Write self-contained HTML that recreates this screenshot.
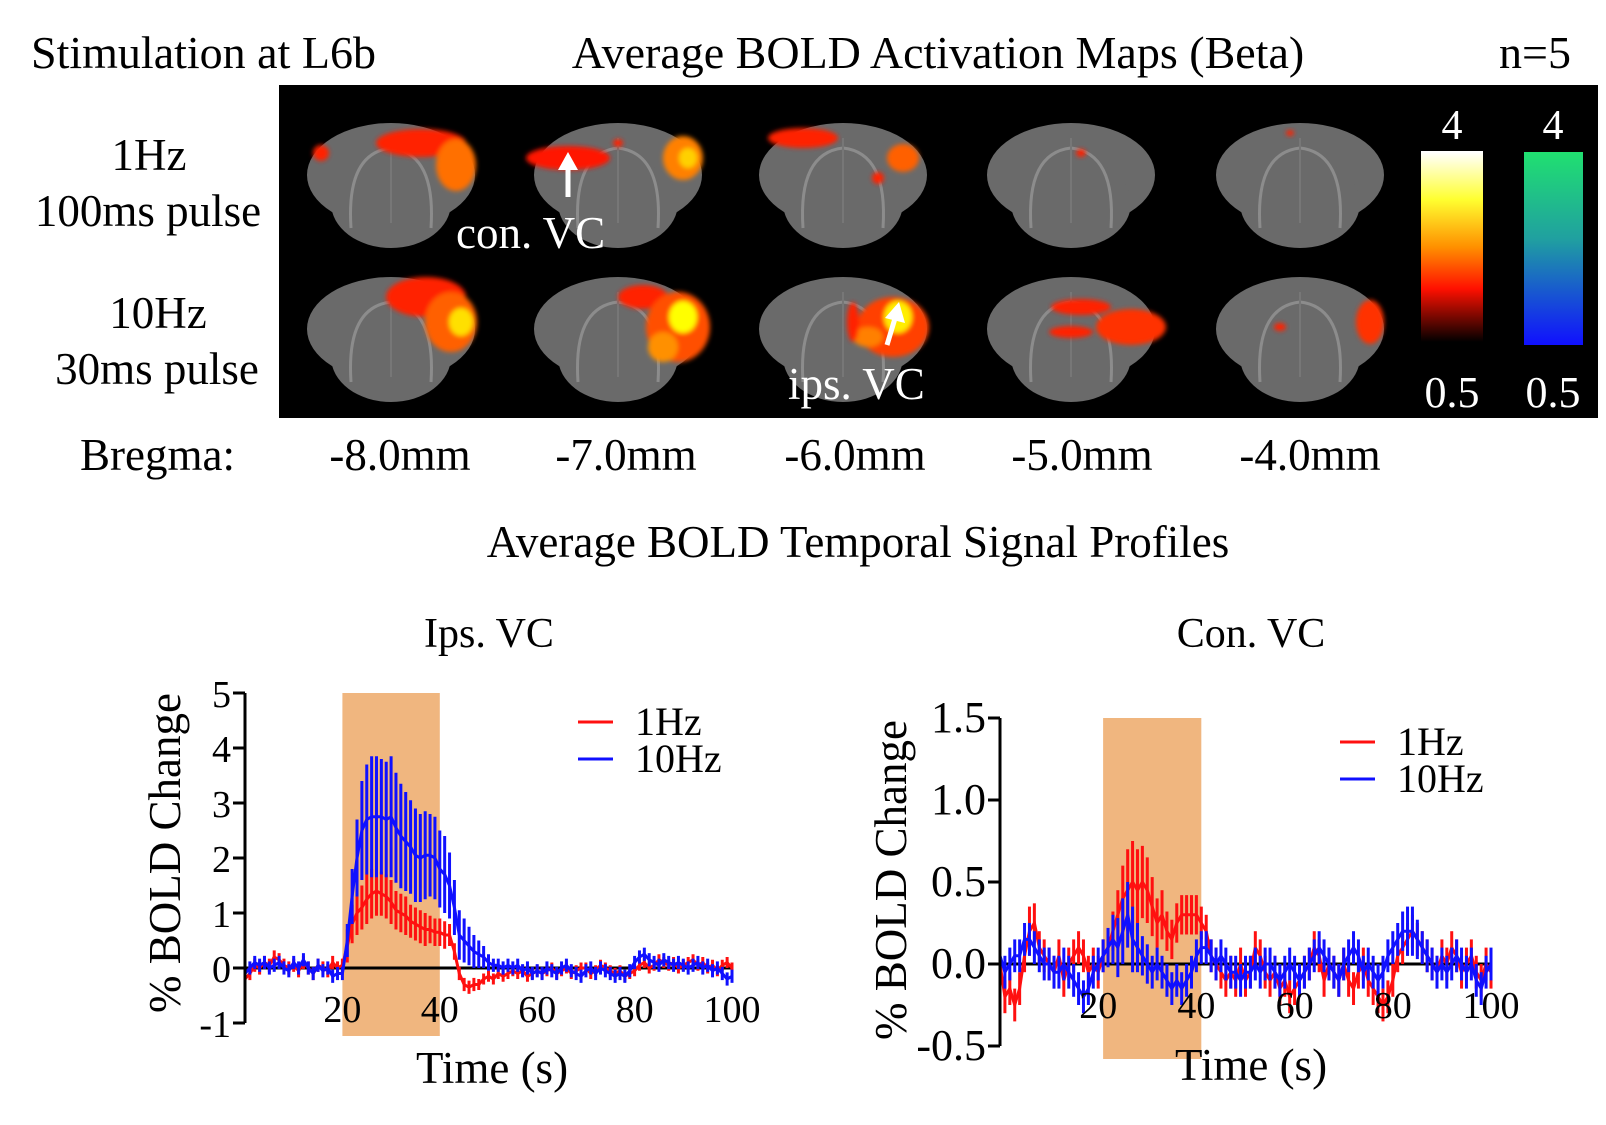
<!DOCTYPE html>
<html><head><meta charset="utf-8"><style>
html,body{margin:0;padding:0;background:#fff}
svg{display:block}
text{font-family:"Liberation Serif",serif;fill:#000}
</style></head><body>
<svg id="fig" width="1606" height="1125" viewBox="0 0 1606 1125">
<defs>
<filter id="blur2" x="-50%" y="-50%" width="200%" height="200%"><feGaussianBlur stdDeviation="2.5"/></filter>
<linearGradient id="cbHot" x1="0" y1="0" x2="0" y2="1">
<stop offset="0" stop-color="#ffffff"/><stop offset="0.25" stop-color="#ffff30"/><stop offset="0.5" stop-color="#ff9000"/><stop offset="0.72" stop-color="#ff1000"/><stop offset="1" stop-color="#000000"/></linearGradient>
<linearGradient id="cbCool" x1="0" y1="0" x2="0" y2="1">
<stop offset="0" stop-color="#20e070"/><stop offset="0.45" stop-color="#20a0a0"/><stop offset="1" stop-color="#1010ff"/></linearGradient>
</defs>

<text x="31" y="68" font-size="46">Stimulation at L6b</text>
<text x="938" y="68" font-size="46" text-anchor="middle">Average BOLD Activation Maps (Beta)</text>
<text x="1571" y="68" font-size="46" text-anchor="end">n=5</text>

<text x="149" y="170" font-size="45" text-anchor="middle">1Hz</text>
<text x="148" y="226" font-size="45" text-anchor="middle">100ms pulse</text>
<text x="158" y="328" font-size="45" text-anchor="middle">10Hz</text>
<text x="157" y="384" font-size="45" text-anchor="middle">30ms pulse</text>

<rect x="279" y="85" width="1319" height="333" fill="#000"/>
<g id="brains"></g>

<text x="456" y="248" font-size="45" style="fill:#fff">con. VC</text>
<text x="788" y="399" font-size="45" style="fill:#fff">ips. VC</text>
<g stroke="#fff" stroke-width="5" fill="#fff">
<line x1="568" y1="197" x2="568" y2="165"/><polygon points="558,170 568,152 578,170" stroke="none"/></g>
<g stroke="#fff" stroke-width="5" fill="#fff">
<line x1="887" y1="345" x2="896" y2="315"/><polygon points="885,318 899,302 905,323" stroke="none"/></g>

<rect x="1421" y="152" width="62" height="190" fill="url(#cbHot)"/>
<line x1="1421" y1="152" x2="1483" y2="152" stroke="#fff" stroke-width="2"/>
<rect x="1524" y="152" width="59" height="193" fill="url(#cbCool)"/>
<text x="1452" y="139" font-size="42" text-anchor="middle" style="fill:#fff">4</text>
<text x="1553" y="139" font-size="42" text-anchor="middle" style="fill:#fff">4</text>
<text x="1452" y="407" font-size="44" text-anchor="middle" style="fill:#fff">0.5</text>
<text x="1553" y="407" font-size="44" text-anchor="middle" style="fill:#fff">0.5</text>

<text x="80" y="470" font-size="45">Bregma:</text>
<g id="bregma"></g>

<text x="858" y="557" font-size="45" text-anchor="middle">Average BOLD Temporal Signal Profiles</text>
<text x="489" y="647" font-size="42" text-anchor="middle">Ips. VC</text>
<text x="1251" y="647" font-size="42" text-anchor="middle">Con. VC</text>

<g id="chartL"></g>
<g id="chartR"></g>
</svg>
<script>
// ---------- chart data ----------
const timeMax = 100;
const ipsRed = [-0.2,-0.1,0.05,0.0,0.1,0.05,0.2,0.15,0.05,0.0, 0.05,-0.05,0.1,0.0,-0.1,0.05,0.0,-0.05,0.1,0.0, 0.05,0.4,0.8,1.0,1.1,1.25,1.35,1.4,1.35,1.3, 1.2,1.05,1.0,0.95,0.85,0.8,0.75,0.7,0.7,0.65, 0.65,0.6,0.6,0.3,-0.1,-0.3,-0.35,-0.3,-0.3,-0.2, -0.15,-0.2,-0.1,-0.15,-0.1,-0.05,-0.1,-0.05,-0.15,-0.1, -0.05,-0.1,-0.05,0.0,-0.1,-0.05,0.0,-0.1,-0.05,0.0, 0.0,-0.1,-0.05,0.05,0.0,-0.05,-0.1,-0.05,-0.15,-0.1, -0.05,0.05,0.1,0.0,0.05,0.15,0.1,0.05,0.1,0.0, 0.05,0.1,0.15,0.05,0.1,0.0,0.05,-0.05,0.05,0.1,0.0];
const ipsBlue = [-0.1,0.0,0.1,0.05,0.1,0.0,0.05,0.1,0.0,-0.05, 0.1,0.0,0.15,0.0,-0.1,0.05,-0.05,0.0,-0.15,-0.1, -0.1,0.5,1.3,2.0,2.5,2.7,2.75,2.75,2.75,2.7, 2.75,2.55,2.4,2.3,2.2,2.05,2.0,2.05,2.05,2.0, 1.8,1.7,1.5,1.1,0.6,0.5,0.4,0.3,0.25,0.2, 0.1,0.05,0.05,0.0,0.05,0.0,0.05,-0.05,0.0,-0.1, -0.05,-0.1,0.0,-0.05,-0.1,0.0,0.05,-0.05,-0.1,-0.15, -0.05,0.0,-0.1,0.0,-0.05,-0.1,-0.15,-0.1,-0.15,-0.05, 0.1,0.2,0.25,0.15,0.1,0.05,0.15,0.1,0.05,0.1, 0.05,0.0,0.05,0.1,0.0,0.05,-0.05,0.0,-0.1,-0.2,-0.15];
const ipsRedErr = [0.12,0.12,0.12,0.12,0.12,0.12,0.12,0.12,0.12,0.12, 0.12,0.12,0.12,0.12,0.12,0.12,0.12,0.12,0.12,0.12, 0.12,0.3,0.35,0.4,0.4,0.45,0.45,0.45,0.4,0.4, 0.4,0.35,0.35,0.35,0.3,0.3,0.3,0.3,0.25,0.25, 0.25,0.25,0.2,0.15,0.12,0.12,0.12,0.12,0.1,0.1, 0.1,0.1,0.1,0.1,0.1,0.1,0.1,0.1,0.1,0.1, 0.1,0.1,0.1,0.1,0.1,0.1,0.1,0.1,0.1,0.1, 0.1,0.1,0.1,0.1,0.1,0.1,0.1,0.1,0.1,0.1, 0.1,0.1,0.1,0.1,0.1,0.1,0.1,0.1,0.1,0.1, 0.1,0.1,0.1,0.1,0.1,0.1,0.1,0.1,0.1,0.1,0.1];
const ipsBlueErr = [0.12,0.12,0.12,0.12,0.12,0.12,0.12,0.12,0.12,0.12, 0.12,0.12,0.12,0.12,0.12,0.12,0.12,0.12,0.12,0.12, 0.12,0.3,0.5,0.7,0.9,1.0,1.1,1.1,1.05,1.05, 1.1,1.0,0.95,0.9,0.85,0.85,0.8,0.8,0.75,0.75, 0.7,0.7,0.6,0.5,0.45,0.4,0.35,0.3,0.25,0.2, 0.15,0.12,0.12,0.12,0.12,0.12,0.12,0.12,0.12,0.12, 0.12,0.12,0.12,0.12,0.12,0.12,0.12,0.12,0.12,0.12, 0.12,0.12,0.12,0.12,0.12,0.12,0.12,0.12,0.12,0.12, 0.12,0.12,0.12,0.12,0.12,0.12,0.12,0.12,0.12,0.12, 0.12,0.12,0.12,0.12,0.12,0.12,0.12,0.12,0.12,0.12,0.12];
const conRed = [0.0,-0.2,-0.15,-0.25,-0.15,0.05,0.2,0.25,0.1,0.05, 0.0,-0.05,0.05,-0.1,0.0,0.05,0.1,0.05,-0.05,0.0, -0.05,0.05,0.1,0.2,0.3,0.4,0.45,0.5,0.45,0.5, 0.45,0.35,0.25,0.3,0.2,0.15,0.25,0.3,0.3,0.3, 0.3,0.25,0.2,0.05,0.0,-0.05,-0.1,-0.05,-0.1,0.0, -0.1,-0.05,0.1,0.05,-0.05,-0.1,-0.05,-0.15,-0.1,-0.2, -0.15,-0.1,-0.05,0.0,0.1,0.05,-0.1,0.0,-0.05,-0.1, 0.0,-0.1,-0.15,-0.05,0.0,-0.1,-0.15,-0.2,-0.25,-0.2, -0.1,0.05,0.1,0.15,0.2,0.15,0.1,0.05,0.0,-0.05, 0.05,0.0,0.1,0.05,-0.05,0.0,0.05,-0.05,-0.1,0.0,-0.05];
const conBlue = [0.05,-0.05,0.0,0.05,0.05,0.15,0.15,0.1,0.05,0.0, 0.0,-0.05,-0.05,0.0,-0.05,-0.1,-0.15,-0.2,-0.15,-0.05, 0.0,0.05,0.1,0.15,0.1,0.2,0.3,0.15,0.1,0.05, 0.0,-0.05,0.0,-0.05,-0.1,-0.15,-0.1,-0.15,-0.1,-0.05, 0.05,0.1,0.1,0.05,0.0,0.05,0.0,-0.05,-0.05,-0.1, -0.05,-0.05,0.0,-0.05,0.0,0.0,-0.05,-0.1,-0.05,0.0, -0.05,-0.1,-0.05,0.0,0.05,0.1,0.05,0.0,-0.05,-0.1, 0.0,0.05,0.1,0.05,-0.05,0.0,-0.05,-0.1,-0.05,0.05, 0.1,0.15,0.2,0.2,0.2,0.15,0.1,0.05,0.0,-0.05, 0.0,-0.05,0.0,0.05,0.0,-0.05,0.0,-0.1,-0.15,-0.05,0.0];
const conRedErr = [0.1,0.1,0.1,0.1,0.1,0.1,0.15,0.12,0.1,0.1, 0.1,0.1,0.1,0.1,0.1,0.1,0.1,0.1,0.1,0.1, 0.1,0.1,0.1,0.12,0.15,0.2,0.25,0.25,0.25,0.22, 0.2,0.18,0.15,0.15,0.12,0.12,0.12,0.12,0.12,0.12, 0.12,0.1,0.1,0.1,0.1,0.1,0.1,0.1,0.1,0.1, 0.1,0.1,0.1,0.1,0.1,0.1,0.1,0.1,0.1,0.1, 0.1,0.1,0.1,0.1,0.1,0.1,0.1,0.1,0.1,0.1, 0.1,0.1,0.1,0.1,0.1,0.1,0.1,0.1,0.1,0.1, 0.1,0.1,0.1,0.1,0.1,0.1,0.1,0.1,0.1,0.1, 0.1,0.1,0.1,0.1,0.1,0.1,0.1,0.1,0.1,0.1,0.1];
const conBlueErr = [0.1,0.1,0.1,0.1,0.1,0.1,0.1,0.1,0.1,0.1, 0.1,0.1,0.1,0.1,0.1,0.1,0.1,0.1,0.1,0.1, 0.1,0.1,0.12,0.15,0.18,0.2,0.2,0.2,0.15,0.12, 0.12,0.1,0.1,0.1,0.1,0.1,0.1,0.1,0.1,0.1, 0.1,0.1,0.1,0.1,0.1,0.1,0.1,0.1,0.1,0.1, 0.1,0.1,0.1,0.1,0.1,0.1,0.1,0.1,0.1,0.1, 0.1,0.1,0.1,0.1,0.1,0.1,0.1,0.1,0.1,0.1, 0.1,0.1,0.1,0.1,0.1,0.1,0.1,0.1,0.1,0.1, 0.1,0.1,0.12,0.15,0.15,0.12,0.1,0.1,0.1,0.1, 0.1,0.1,0.1,0.1,0.1,0.1,0.1,0.1,0.1,0.1,0.1];
const xTicks = [20,40,60,80,100];
const ipsYTicks = [5,4,3,2,1,0,-1];
const ipsYLabels = ["5","4","3","2","1","0","-1"];
const conYTicks = [1.5,1.0,0.5,0.0,-0.5];
const conYLabels = ["1.5","1.0","0.5","0.0","-0.5"];
const ipsStimWindow = [20,40];
const conStimWindow = [21,41];
const bregmaLabels = ["-8.0mm","-7.0mm","-6.0mm","-5.0mm","-4.0mm"];

const NS = "http://www.w3.org/2000/svg";
function mk(tag, attrs, parent){ const e=document.createElementNS(NS,tag); for(const k in attrs) e.setAttribute(k,attrs[k]); parent.appendChild(e); return e; }

const bx=[400,626,855,1082,1310];
const bg=document.getElementById('bregma');
bregmaLabels.forEach((s,i)=>{ const t=mk('text',{x:bx[i],y:470,'font-size':45,'text-anchor':'middle'},bg); t.textContent=s;

 });

const brainG=document.getElementById('brains');
const bcx=[391,618,843,1071,1300], bcy=[183,337];
const blobs=[
 [[[30,-40,45,14,'#ff2000'],[65,-18,20,26,'#ff7000'],[-70,-30,8,8,'#ff2000']],[[35,-40,40,20,'#ff2000'],[60,-15,26,30,'#ff6000'],[70,-15,12,14,'#ffe000']]],
 [[[-50,-25,42,12,'#ff1500'],[65,-25,20,22,'#ff8000'],[70,-25,9,10,'#ffd000'],[0,-40,5,4,'#ff2000']],[[25,-40,25,12,'#ff2000'],[60,-10,32,35,'#ff5000'],[65,-20,14,16,'#ffff00'],[45,10,15,15,'#ff9000']]],
 [[[-40,-45,35,10,'#ff2000'],[60,-25,16,14,'#ff6000'],[35,-5,6,6,'#ff2000']],[[50,-10,36,30,'#ff4000'],[55,-20,14,16,'#ffee00'],[25,0,15,10,'#ff8000'],[10,-15,6,20,'#ff2000']]],
 [[[10,-30,5,4,'#ff2000']],[[60,-10,35,18,'#ff3000'],[10,-30,30,8,'#ff2000'],[0,-5,22,6,'#ff2000']]],
 [[[-10,-50,4,3,'#ff2000']],[[70,-15,14,22,'#ff3000'],[-20,-10,6,4,'#ff2000']]]
];
for(let c=0;c<5;c++) for(let r=0;r<2;r++){
 const g=mk('g',{},brainG);
 
 
 const x=bcx[c], y=bcy[r];
 mk('ellipse',{cx:x,cy:y-8,rx:84,ry:52,fill:'#6a6a6a'},g);
 mk('ellipse',{cx:x,cy:y+20,rx:60,ry:45,fill:'#6a6a6a'},g);
 mk('path',{d:`M${x-40},${y+45} Q${x-45},${y-30} ${x},${y-35} Q${x+45},${y-30} ${x+40},${y+45}`,fill:'none',stroke:'#8c8c8c','stroke-width':3},g);
 mk('line',{x1:x,y1:y-45,x2:x,y2:y+40,stroke:'#777','stroke-width':2},g);
 const bl=mk('g',{filter:'url(#blur2)'},g);
 blobs[c][r].forEach(b=>mk('ellipse',{cx:x+b[0],cy:y+b[1],rx:b[2],ry:b[3],fill:b[4]},bl));
}

function chart(gid, o){
 const g=document.getElementById(gid);
 const X=t=>o.x0+(t/timeMax)*(o.x1-o.x0);
 const Y=v=>o.yZero-(v)*o.yUnit;
 const stim=mk('rect',{x:X(o.stim[0]),y:Y(o.yMax),width:X(o.stim[1])-X(o.stim[0]),height:o.stimBottom-Y(o.yMax),fill:'#f0b67f'},g);
 
 
 mk('line',{x1:o.x0,y1:Y(0),x2:X(timeMax),y2:Y(0),stroke:'#000','stroke-width':3},g);
 o.series.forEach(s=>{
  const sg=mk('g',{stroke:s.color,'stroke-width':3,fill:'none'},g);
  
  
  s.vals.forEach((v,i)=>{ mk('line',{x1:X(i),x2:X(i),y1:Y(v-s.err[i]),y2:Y(v+s.err[i])},sg); });
  mk('polyline',{points:s.vals.map((v,i)=>X(i).toFixed(1)+','+Y(v).toFixed(1)).join(' ')},sg);
 });
 const ya=mk('g',{stroke:'#000','stroke-width':3},g);
 
 
 mk('line',{x1:o.x0,y1:Y(o.yMax),x2:o.x0,y2:Y(o.yMin)},ya);
 o.yTicks.forEach((v,i)=>{
  mk('line',{x1:o.x0-12,x2:o.x0,y1:Y(v),y2:Y(v)},ya);
  const t=mk('text',{x:o.x0-14,y:Y(v)+14,'font-size':o.yTickFont,'text-anchor':'end'},g);
  t.textContent=o.yLabels[i];
  
  
 });
 xTicks.forEach(v=>{
  const t=mk('text',{x:X(v),y:o.xLabelY,'font-size':38,'text-anchor':'middle'},g);
  t.textContent=String(v);
  
  
 });
 const xt=mk('text',{x:o.xTitleX,y:o.xTitleY,'font-size':45,'text-anchor':'middle'},g);
 xt.textContent='Time (s)';
 
 
 const yt=mk('text',{x:0,y:0,'font-size':45,'text-anchor':'middle',transform:`translate(${o.yTitleX},${o.yTitleY}) rotate(-90)`},g);
 yt.textContent='% BOLD Change';
 
 
 o.series.forEach((s,i)=>{
  const lg=mk('g',{},g);
  
  
  mk('line',{x1:o.legX,x2:o.legX+35,y1:o.legY+i*37,y2:o.legY+i*37,stroke:s.color,'stroke-width':3},lg);
  const t=mk('text',{x:o.legX+57,y:o.legY+i*37+13,'font-size':40},lg);
  t.textContent=s.label;
 });
}
chart('chartL',{x0:245,x1:732,yZero:968,yUnit:55,yMax:5,yMin:-1,stimBottom:1036,stim:ipsStimWindow,yTicks:ipsYTicks,yLabels:ipsYLabels,yTickFont:38,xLabelY:1022,xTitleX:492,xTitleY:1083,yTitleX:180,yTitleY:853,legX:578,legY:722,
 series:[{name:'series-1hz',label:'1Hz',color:'#ff1010',vals:ipsRed,err:ipsRedErr},{name:'series-10hz',label:'10Hz',color:'#1010ff',vals:ipsBlue,err:ipsBlueErr}]});
chart('chartR',{x0:1000,x1:1491,yZero:964,yUnit:164,yMax:1.5,yMin:-0.5,stimBottom:1059,stim:conStimWindow,yTicks:conYTicks,yLabels:conYLabels,yTickFont:44,xLabelY:1018,xTitleX:1251,xTitleY:1080,yTitleX:906,yTitleY:880,legX:1340,legY:742,
 series:[{name:'series-1hz',label:'1Hz',color:'#ff1010',vals:conRed,err:conRedErr},{name:'series-10hz',label:'10Hz',color:'#1010ff',vals:conBlue,err:conBlueErr}]});
</script>
</body></html>
